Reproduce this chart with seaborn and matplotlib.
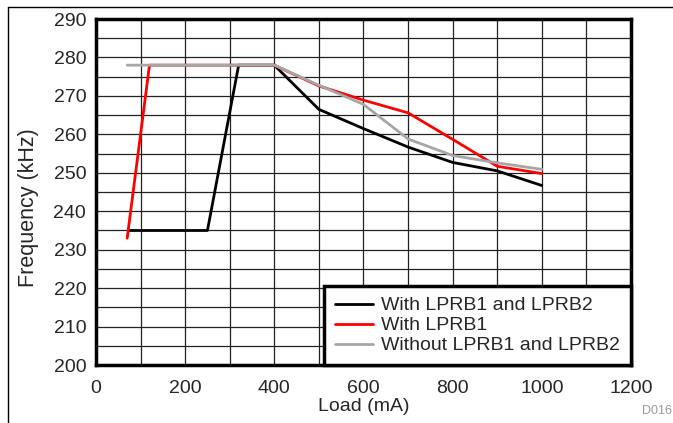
import numpy as np
import pandas as pd
import matplotlib.pyplot as plt
from matplotlib.lines import Line2D
import seaborn as sns

# series
load_both = [75, 250, 320, 400, 500, 600, 700, 800, 900, 1000]
freq_both = [235, 235, 278, 278, 266.5, 261.5, 256.7, 252.7, 250.5, 246.7]
load_lprb1 = [70, 120, 400, 500, 600, 700, 800, 900, 1000]
freq_lprb1 = [233, 278, 278, 272.6, 268.9, 265.6, 258.7, 251.7, 249.8]
load_none = [70, 400, 500, 600, 700, 800, 900, 1000]
freq_none = [278, 278, 272.8, 267.8, 258.8, 254.5, 252.6, 250.9]

labels = ["With LPRB1 and LPRB2", "With LPRB1", "Without LPRB1 and LPRB2"]
colors = ["#000000", "#ff0000", "#a6a6a6"]

df = pd.concat([
    pd.DataFrame({"Load": load_both, "Freq": freq_both, "Config": labels[0]}),
    pd.DataFrame({"Load": load_lprb1, "Freq": freq_lprb1, "Config": labels[1]}),
    pd.DataFrame({"Load": load_none, "Freq": freq_none, "Config": labels[2]}),
])

sns.set_style("white")
plt.rcParams['font.family'] = ['Liberation Sans', 'DejaVu Sans']

fig = plt.figure(figsize=(6.73, 4.23), dpi=100)
ax = fig.add_axes([0.1426, 0.137, 0.795, 0.818])

ax.set_xticks(np.arange(0, 1201, 100), minor=True)
ax.set_yticks(np.arange(200, 291, 5), minor=True)
ax.grid(True, which='both', color='#222222', lw=0.9)
ax.set_axisbelow(True)

sns.lineplot(data=df, x="Load", y="Freq", hue="Config", palette=colors,
             hue_order=labels, sort=False, estimator=None, lw=2, ax=ax)

ax.set_xlim(0, 1200)
ax.set_ylim(200, 290)
ax.set_xticks(np.arange(0, 1201, 200))
ax.set_yticks(np.arange(200, 291, 10))
ax.tick_params(which='both', length=0, labelsize=14, pad=7)
ax.tick_params(axis='x', pad=11)
for s in ax.spines.values():
    s.set_linewidth(2.5)
    s.set_color('black')

ax.set_xlabel("Load (mA)", fontsize=14)
ax.set_ylabel("Frequency (kHz)", fontsize=15.5)
ax.xaxis.set_label_coords(0.5, -0.1185)
ax.xaxis.label.set_va('center')
ax.yaxis.set_label_coords(-0.127, 0.454)
ax.yaxis.label.set_va('center')

leg = ax.legend(loc='lower right', fontsize=14, frameon=True, fancybox=False,
                borderaxespad=0, handlelength=1.95, handletextpad=0.45,
                labelspacing=0.12, borderpad=0.55, title=None)
leg.get_frame().set_edgecolor('black')
leg.get_frame().set_linewidth(2.5)
leg.get_frame().set_alpha(1)

fig.text(0.998, 0.015, "D016", ha='right', va='bottom', fontsize=9, color='#999999')

# outer frame lines
fig.add_artist(Line2D([0.012, 1.0], [0.984, 0.984], color='black', lw=1))
fig.add_artist(Line2D([0.012, 0.012], [0.0, 0.984], color='black', lw=1))

fig.savefig("out.png", dpi=100)
